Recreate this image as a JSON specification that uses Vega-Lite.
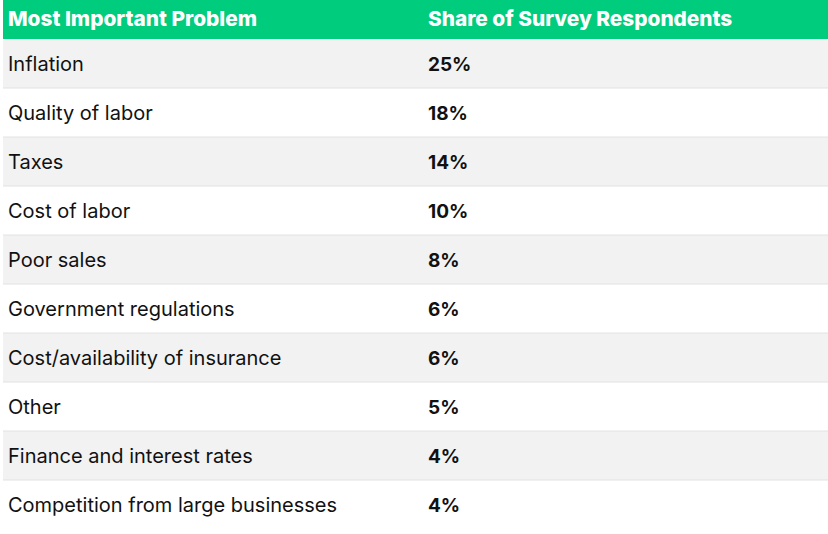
{
  "$schema": "https://vega.github.io/schema/vega-lite/v6.json",
  "padding": {"left": 2, "top": 0, "right": 0, "bottom": 5},
  "background": "white",
  "spacing": 0,
  "config": {"view": {"stroke": null}, "font": "Inter", "concat": {"spacing": 0}},
  "vconcat": [
    {
      "width": 826,
      "height": 39,
      "data": {"values": [
        {"header": "Most Important Problem", "column": "problem"},
        {"header": "Share of Survey Respondents", "column": "share"}
      ]},
      "layer": [
        {"mark": {"type": "rect", "fill": "#00CC7E"}, "encoding": {}},
        {
          "transform": [{"filter": "datum.column === 'problem'"}],
          "mark": {"type": "text", "align": "left", "baseline": "middle", "fontSize": 20.8, "fontWeight": 800, "fill": "white", "dx": -201.5},
          "encoding": {
            "x": {"field": "header", "type": "nominal", "axis": null,
                  "scale": {"domain": ["Most Important Problem", "Share of Survey Respondents"], "paddingInner": 0, "paddingOuter": 0}},
            "text": {"field": "header"}
          }
        },
        {
          "transform": [{"filter": "datum.column === 'share'"}],
          "mark": {"type": "text", "align": "left", "baseline": "middle", "fontSize": 20.8, "fontWeight": 800, "fill": "white", "dx": -194.5},
          "encoding": {
            "x": {"field": "header", "type": "nominal", "axis": null,
                  "scale": {"domain": ["Most Important Problem", "Share of Survey Respondents"], "paddingInner": 0, "paddingOuter": 0}},
            "text": {"field": "header"}
          }
        }
      ]
    },
    {
      "width": 826,
      "height": 490,
      "data": {"values": [
        {"rank": 1, "problem": "Inflation", "share": 0.25},
        {"rank": 2, "problem": "Quality of labor", "share": 0.18},
        {"rank": 3, "problem": "Taxes", "share": 0.14},
        {"rank": 4, "problem": "Cost of labor", "share": 0.10},
        {"rank": 5, "problem": "Poor sales", "share": 0.08},
        {"rank": 6, "problem": "Government regulations", "share": 0.06},
        {"rank": 7, "problem": "Cost/availability of insurance", "share": 0.06},
        {"rank": 8, "problem": "Other", "share": 0.05},
        {"rank": 9, "problem": "Finance and interest rates", "share": 0.04},
        {"rank": 10, "problem": "Competition from large businesses", "share": 0.04}
      ]},
      "encoding": {
        "y": {"field": "problem", "type": "nominal", "sort": {"field": "rank", "op": "min"}, "axis": null,
              "scale": {"paddingInner": 0, "paddingOuter": 0}}
      },
      "layer": [
        {
          "mark": {"type": "rect"},
          "encoding": {
            "fill": {"condition": {"test": "datum.rank % 2 === 1", "value": "#F2F2F2"}, "value": "#FFFFFF"}
          }
        },
        {
          "transform": [{"filter": "datum.rank < 10"}],
          "mark": {"type": "rule", "stroke": "#E2E2E2", "strokeWidth": 1},
          "encoding": {
            "y": {"field": "problem", "type": "nominal", "sort": {"field": "rank", "op": "min"}, "axis": null, "bandPosition": 1}
          }
        },
        {
          "mark": {"type": "text", "align": "left", "baseline": "middle", "fontSize": 20, "fill": "#111111", "dx": -201.5, "dy": 1},
          "encoding": {
            "x": {"datum": "Most Important Problem", "type": "nominal", "axis": null,
                  "scale": {"domain": ["Most Important Problem", "Share of Survey Respondents"], "paddingInner": 0, "paddingOuter": 0}},
            "text": {"field": "problem"}
          }
        },
        {
          "mark": {"type": "text", "align": "left", "baseline": "middle", "fontSize": 19, "fontWeight": "bold", "fill": "#111111", "dx": -194.5, "dy": 1},
          "encoding": {
            "x": {"datum": "Share of Survey Respondents", "type": "nominal", "axis": null,
                  "scale": {"domain": ["Most Important Problem", "Share of Survey Respondents"], "paddingInner": 0, "paddingOuter": 0}},
            "text": {"field": "share", "type": "quantitative", "format": ".0%"}
          }
        }
      ]
    }
  ]
}
